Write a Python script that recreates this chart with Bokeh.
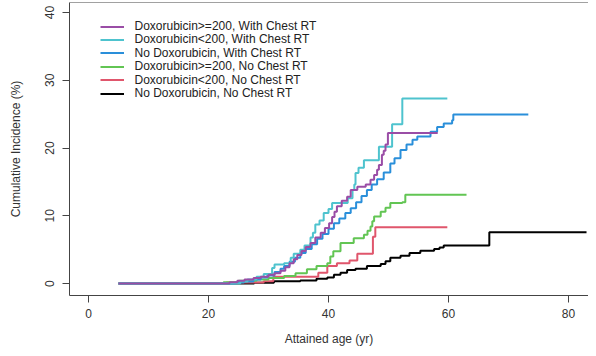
from bokeh.plotting import figure
from bokeh.models import Legend, LegendItem, Span, FixedTicker, Range1d
from bokeh.embed import file_html
from bokeh.resources import INLINE

# ---- data ----
labels = [
    "Doxorubicin>=200, With Chest RT",
    "Doxorubicin<200, With Chest RT",
    "No Doxorubicin, With Chest RT",
    "Doxorubicin>=200, No Chest RT",
    "Doxorubicin<200, No Chest RT",
    "No Doxorubicin, No Chest RT",
]
colors = ["#9A4DA6", "#4EC3CE", "#2A8FDA", "#62C553", "#E0566C", "#000000"]

dox_hi_rt_x = [5, 23.5, 24.8, 26.0, 27.5, 28.7, 30.0, 31.0, 32.0, 32.8, 33.5, 34.2, 34.8, 35.5,
               36.2, 37.0, 37.8, 38.7, 39.4, 40.1, 40.6, 41.0, 41.4, 42.2, 43.1, 43.7, 44.8,
               46.2, 47.0, 47.6, 48.1, 48.4, 48.9, 49.2, 49.5, 49.9, 58.2]
dox_hi_rt_y = [0, 0.2, 0.4, 0.6, 0.8, 1.0, 1.3, 1.5, 1.9, 2.4, 3.0, 3.6, 4.2, 4.8,
               5.4, 6.0, 6.8, 7.5, 8.2, 8.9, 9.8, 10.6, 11.4, 12.2, 12.8, 13.8, 14.3,
               14.6, 15.3, 16.0, 16.8, 17.5, 19.0, 19.6, 20.5, 22.2, 22.2]

dox_lo_rt_x = [5, 25.3, 26.5, 28.0, 29.2, 30.6, 31.0, 32.6, 33.7, 34.2, 35.3, 36.0, 37.0, 37.4,
               37.8, 38.5, 39.2, 40.0, 40.6, 43.2, 44.0, 44.3, 44.5, 45.0, 45.9, 48.4,
               50.6, 52.3, 59.8]
dox_lo_rt_y = [0, 0.3, 0.6, 1.0, 1.4, 2.3, 2.8, 3.0, 3.8, 4.4, 5.0, 5.6, 6.8, 7.5,
               8.7, 9.3, 10.4, 11.0, 11.9, 12.6, 13.8, 14.6, 16.3, 17.1, 18.2, 20.2,
               23.5, 27.3, 27.3]

no_dox_rt_x = [5, 24.5, 25.9, 27.5, 28.7, 29.8, 31.0, 32.0, 32.6, 33.5, 34.4, 35.3, 36.2, 37.2,
               38.1, 39.0, 40.0, 40.9, 41.8, 42.8, 43.7, 44.6, 45.5, 46.4, 47.2, 48.1, 49.2,
               50.3, 51.0, 52.0, 53.0, 54.0, 54.8, 57.0, 58.1, 59.2, 60.6, 60.8, 73.3]
no_dox_rt_y = [0, 0.15, 0.3, 0.6, 0.9, 1.2, 1.7, 2.2, 2.6, 3.2, 3.8, 4.5, 5.1, 5.8,
               6.6, 7.3, 8.1, 8.9, 9.6, 10.4, 11.1, 12.0, 12.9, 13.8, 14.6, 15.4, 16.4,
               17.7, 18.5, 19.7, 20.5, 21.2, 21.7, 22.4, 23.1, 23.6, 24.1, 24.95, 24.95]

dox_hi_nort_x = [5, 22.5, 25.0, 28.0, 30.0, 32.6, 34.5, 36.4, 38.0, 39.8, 40.3, 40.8, 42.0,
                 44.2, 45.9, 46.5, 47.0, 47.3, 47.6, 48.7, 49.5, 50.3, 52.3, 52.8, 63.0]
dox_hi_nort_y = [0, 0.2, 0.4, 0.6, 0.8, 1.1, 1.5, 2.1, 2.6, 3.0, 4.0, 4.75, 6.0,
                 6.7, 7.2, 7.8, 8.4, 9.2, 9.9, 10.6, 11.2, 11.9, 12.0, 13.1, 13.1]

dox_lo_nort_x = [5, 23.0, 29.2, 30.8, 38.3, 39.8, 41.4, 43.5, 44.8, 47.4, 47.8, 59.8]
dox_lo_nort_y = [0, 0.15, 0.35, 1.0, 1.6, 2.6, 3.0, 3.4, 4.4, 6.9, 8.3, 8.3]

no_dox_nort_x = [5, 27.6, 30.9, 35.3, 38.0, 39.8, 40.9, 42.0, 43.1, 44.5, 46.4, 48.7, 49.5,
                 50.3, 52.0, 53.5, 55.3, 57.6, 58.5, 59.2, 66.8, 83.0]
no_dox_nort_y = [0, 0.1, 0.35, 0.45, 0.7, 0.9, 1.3, 1.6, 2.0, 2.2, 2.6, 2.9, 3.3,
                 3.8, 4.1, 4.5, 4.85, 5.1, 5.3, 5.6, 7.55, 7.55]

x_ticks = [0, 20, 40, 60, 80]
y_ticks = [0, 10, 20, 30, 40]

series = [
    (dox_hi_rt_x, dox_hi_rt_y),
    (dox_lo_rt_x, dox_lo_rt_y),
    (no_dox_rt_x, no_dox_rt_y),
    (dox_hi_nort_x, dox_hi_nort_y),
    (dox_lo_nort_x, dox_lo_nort_y),
    (no_dox_nort_x, no_dox_nort_y),
]

FONT = "Liberation Sans"
GRAY = "#333333"
Y_TOP = 41.47

p = figure(width=588, height=348, output_backend="svg", toolbar_location=None,
           x_range=Range1d(-3.167, 83.33), y_range=Range1d(-1.765, Y_TOP),
           min_border_left=69, min_border_right=0, min_border_top=2, min_border_bottom=52)
p.grid.visible = False
p.outline_line_color = None
p.background_fill_color = "white"

renderers = {}
for i in reversed(range(len(series))):
    xs, ys = series[i]
    renderers[i] = p.step(xs, ys, mode="after", line_color=colors[i], line_width=2)

# top border of the box
p.add_layout(Span(location=Y_TOP, dimension="width", line_color="#444444", line_width=1))

for ax in (p.xaxis[0], p.yaxis[0]):
    ax.axis_line_color = "#444444"
    ax.major_tick_line_color = "#444444"
    ax.major_tick_out = 7
    ax.major_tick_in = 0
    ax.minor_tick_line_color = None
    ax.major_label_text_font = FONT
    ax.major_label_text_font_size = "12px"
    ax.major_label_text_color = GRAY
    ax.axis_label_text_font = FONT
    ax.axis_label_text_font_size = "12px"
    ax.axis_label_text_font_style = "normal"
    ax.axis_label_text_color = GRAY

p.xaxis[0].ticker = FixedTicker(ticks=x_ticks)
p.yaxis[0].ticker = FixedTicker(ticks=y_ticks)
p.xaxis[0].axis_label = "Attained age (yr)"
p.yaxis[0].axis_label = "Cumulative Incidence (%)"
p.xaxis[0].major_label_standoff = 6
p.xaxis[0].axis_label_standoff = 11
p.yaxis[0].major_label_orientation = "vertical"
p.yaxis[0].major_label_standoff = 8
p.yaxis[0].axis_label_standoff = 20

# one single-row legend per series, stacked with a fixed row pitch (screen units)
ROW_PITCH = 13.4
LAST_ROW_BOTTOM = 195
for i in range(len(labels)):
    lg = Legend(
        items=[LegendItem(label=labels[i], renderers=[renderers[i]])],
        location=(30.5, LAST_ROW_BOTTOM + ROW_PITCH * (len(labels) - 1 - i)),
        padding=0, margin=0, spacing=0,
        glyph_width=24, glyph_height=13, label_height=13,
        label_standoff=11,
        label_text_font=FONT, label_text_font_size="12px", label_text_color="#222222",
        label_text_line_height=1.0,
        border_line_color=None, background_fill_alpha=0,
    )
    p.add_layout(lg, "center")

open("out.html", "w").write(file_html(p, INLINE))
